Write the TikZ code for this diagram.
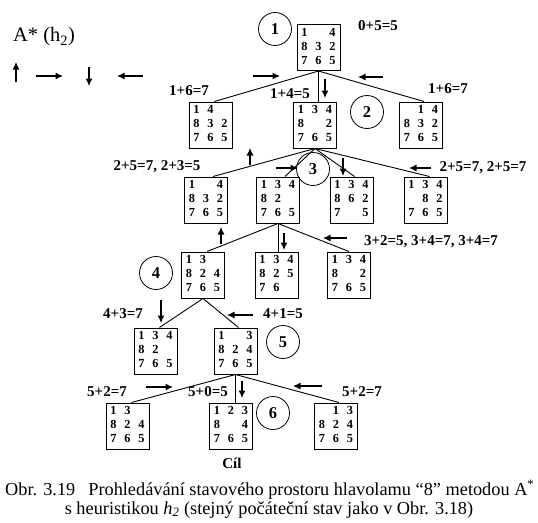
\documentclass[tikz,border=0pt]{standalone}
\usepackage{fontspec}
\setmainfont{Liberation Serif}
\usepackage{tikz}
\usetikzlibrary{arrows.meta}

\newcommand{\tiles}[9]{{\setlength{\tabcolsep}{0pt}\begin{tabular}{ccc}
\makebox[14pt]{#1}&\makebox[14pt]{#2}&\makebox[14pt]{#3}\\
\makebox[14pt]{#4}&\makebox[14pt]{#5}&\makebox[14pt]{#6}\\
\makebox[14pt]{#7}&\makebox[14pt]{#8}&\makebox[14pt]{#9}
\end{tabular}}}

\tikzset{
    puzzle/.style={draw, line width=1pt, minimum width=43pt, minimum height=46pt,
        inner sep=0pt, font=\fontsize{12.3}{14}\selectfont\bfseries},
    stepno/.style={draw, circle, line width=0.8pt, minimum size=33pt, inner sep=0pt,
        font=\fontsize{16.5}{16.5}\selectfont\bfseries},
    cost/.style={inner sep=0pt, font=\fontsize{15}{15}\selectfont\bfseries},
    edge/.style={line width=0.9pt},
    move/.style={-{Latex[length=7.5pt,width=7pt]}, line width=1.1pt},
    caption/.style={inner sep=0pt, font=\fontsize{18.3}{18.3}\selectfont},
}

\begin{document}
\begin{tikzpicture}[x=1pt,y=-1pt]
        \useasboundingbox (0,0) rectangle (538,522);

        \node[inner sep=0pt, font=\fontsize{20.5}{20.5}\selectfont] (title) at (44,37) {A* (h\textsubscript{2})};
        \coordinate (lg1) at (16,82);
        \coordinate (lg2) at (36,76);
        \coordinate (lg3) at (89,67);
        \coordinate (lg4) at (143,76);
        \draw[move] (lg1) -- ++(0,-20);
        \draw[move] (lg2) -- ++(27,0);
        \draw[move] (lg3) -- ++(0,19);
        \draw[move] (lg4) -- ++(-26,0);

        \node[puzzle] (a0) at (318.5,47.5) {\tiles{1}{}{4}{8}{3}{2}{7}{6}{5}};
        \node[stepno] (k1) at (275,29) {1};
        \node[cost] (g0) at (378,26) {0+5=5};

        \node[puzzle] (b1) at (210.5,125) {\tiles{1}{4}{}{8}{3}{2}{7}{6}{5}};
        \node[puzzle] (b2) at (315,125) {\tiles{1}{3}{4}{8}{}{2}{7}{6}{5}};
        \node[puzzle] (b3) at (421,125) {\tiles{}{1}{4}{8}{3}{2}{7}{6}{5}};
        \node[stepno] (k2) at (367,112) {2};
        \node[cost] (g1) at (189,91) {1+6=7};
        \node[cost] (g2) at (290,94) {1+4=5};
        \node[cost] (g3) at (448,89) {1+6=7};
        \draw[edge] (a0.south) -- ([xshift=4pt]b1.north);
        \draw[edge] (a0.south) -- (a0.south |- b2.north);
        \draw[edge] (a0.south) -- ([xshift=3pt]b3.north);
        \coordinate (m1) at (253,76);
        \coordinate (m2) at (325,79);
        \coordinate (m3) at (383,77);
        \draw[move] (m1) -- ++(27,0);
        \draw[move] (m2) -- ++(0,19);
        \draw[move] (m3) -- ++(-25,0);

        \node[puzzle] (c1) at (206,200) {\tiles{1}{}{4}{8}{3}{2}{7}{6}{5}};
        \node[puzzle] (c2) at (278,200) {\tiles{1}{3}{4}{8}{2}{}{7}{6}{5}};
        \node[puzzle] (c3) at (351.5,200) {\tiles{1}{3}{4}{8}{6}{2}{7}{}{5}};
        \node[puzzle] (c4) at (425.5,200) {\tiles{1}{3}{4}{}{8}{2}{7}{6}{5}};
        \node[stepno] (k3) at (313,169) {3};
        \node[cost] (g4) at (157,167) {2+5=7, 2+3=5};
        \node[cost] (g5) at (483,168) {2+5=7, 2+5=7};
        \draw[edge] (b2.south) -- ([xshift=7pt]c1.north);
        \draw[edge] (b2.south) -- ([xshift=7pt]c2.north);
        \draw[edge] (b2.south) -- ([xshift=3pt]c3.north);
        \draw[edge] (b2.south) -- ([xshift=4pt]c4.north);
        \coordinate (m4) at (250,165);
        \coordinate (m5) at (276,168);
        \coordinate (m6) at (343,158);
        \coordinate (m7) at (431,168);
        \draw[move] (m4) -- ++(0,-17);
        \draw[move] (m5) -- ++(22,0);
        \draw[move] (m6) -- ++(0,18);
        \draw[move] (m7) -- ++(-22,0);

        \node[puzzle] (d1) at (203,275) {\tiles{1}{3}{}{8}{2}{4}{7}{6}{5}};
        \node[puzzle] (d2) at (276.5,275) {\tiles{1}{3}{4}{8}{2}{5}{7}{6}{}};
        \node[puzzle] (d3) at (349,275) {\tiles{1}{3}{4}{8}{}{2}{7}{6}{5}};
        \node[stepno] (k4) at (156,273) {4};
        \node[cost] (g6) at (431,242) {3+2=5, 3+4=7, 3+4=7};
        \draw[edge] (c2.south) -- ([xshift=4pt]d1.north);
        \draw[edge] (c2.south) -- (c2.south |- d2.north);
        \draw[edge] (c2.south) -- (d3.north);
        \coordinate (m8) at (221,244);
        \coordinate (m9) at (284,233);
        \coordinate (m10) at (347,238);
        \draw[move] (m8) -- ++(0,-17);
        \draw[move] (m9) -- ++(0,17);
        \draw[move] (m10) -- ++(-24,0);

        \node[puzzle] (e1) at (155.5,351) {\tiles{1}{3}{4}{8}{2}{}{7}{6}{5}};
        \node[puzzle] (e2) at (235.5,351) {\tiles{1}{}{3}{8}{2}{4}{7}{6}{5}};
        \node[stepno] (k5) at (283,342) {5};
        \node[cost] (g7) at (123,314) {4+3=7};
        \node[cost] (g8) at (283,314) {4+1=5};
        \draw[edge] (d1.south) -- ([xshift=4pt]e1.north);
        \draw[edge] (d1.south) -- ([xshift=3pt]e2.north);
        \coordinate (m11) at (161,300);
        \coordinate (m12) at (253,315);
        \draw[move] (m11) -- ++(0,23);
        \draw[move] (m12) -- ++(-26,0);

        \node[puzzle] (f1) at (127.5,426) {\tiles{1}{3}{}{8}{2}{4}{7}{6}{5}};
        \node[puzzle] (f2) at (231,426) {\tiles{1}{2}{3}{8}{}{4}{7}{6}{5}};
        \node[puzzle] (f3) at (336,426) {\tiles{}{1}{3}{8}{2}{4}{7}{6}{5}};
        \node[stepno] (k6) at (273,413) {6};
        \node[cost] (g9) at (107,392) {5+2=7};
        \node[cost] (g10) at (208,392) {5+0=5};
        \node[cost] (g11) at (362,392) {5+2=7};
        \node[cost] (goal) at (232,463) {Cíl};
        \draw[edge] (e2.south) -- ([xshift=4pt]f1.north);
        \draw[edge] (e2.south) -- (e2.south |- f2.north);
        \draw[edge] (e2.south) -- ([xshift=3pt]f3.north);
        \coordinate (m13) at (146,387);
        \coordinate (m14) at (242,381);
        \coordinate (m15) at (322,386);
        \draw[move] (m13) -- ++(27,0);
        \draw[move] (m14) -- ++(0,17);
        \draw[move] (m15) -- ++(-29,0);

        \node[caption, anchor=base west] (cap1) at (5,495)
            {Obr. 3.19\hspace{13pt}Prohledávání stavového prostoru hlavolamu “8” metodou A\textsuperscript{*}};
        \node[caption, anchor=base] (cap2) at (269,514)
            {s heuristikou \textit{h\textsubscript{2}} (stejný počáteční stav jako v Obr. 3.18)};
\end{tikzpicture}
\end{document}
